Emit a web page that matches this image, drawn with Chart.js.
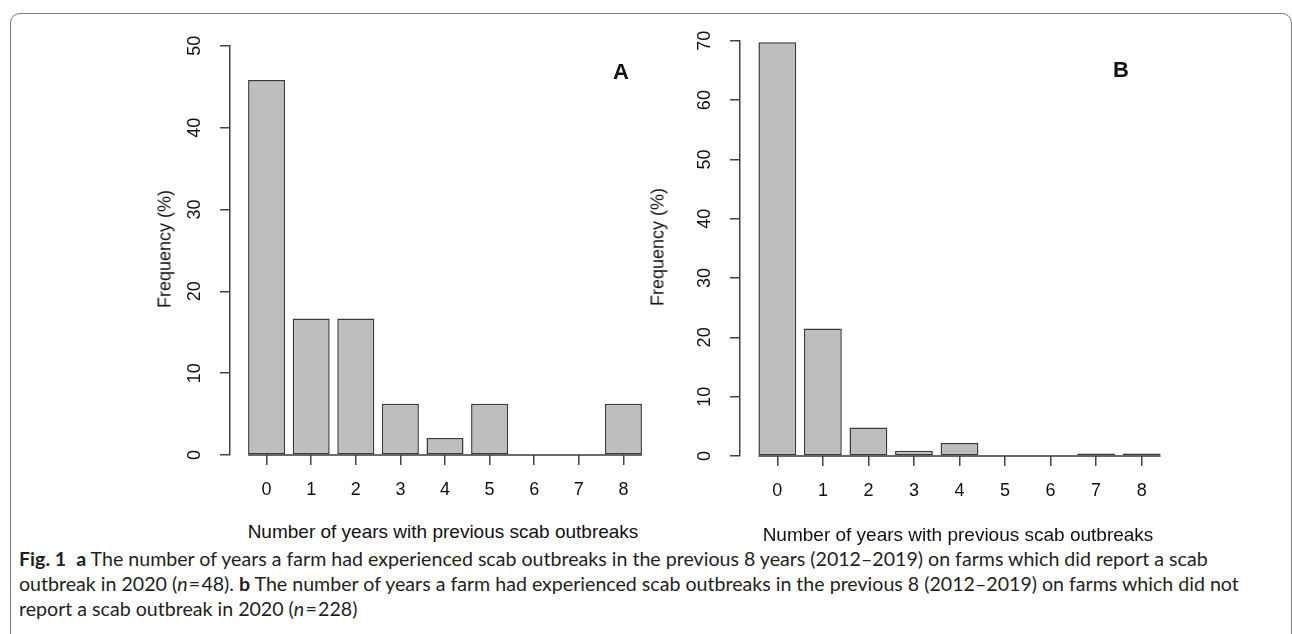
<!DOCTYPE html>
<html>
<head>
<meta charset="utf-8">
<script src="https://cdn.jsdelivr.net/npm/chart.js@4/dist/chart.umd.min.js"></script>
<style>
  body { margin: 0; width: 1292px; height: 634px; background: #fff; position: relative; overflow: hidden;
         font-family: "Liberation Sans", Arial, sans-serif; color: #111; }
  .frame { position: absolute; left: 10px; top: 13px; width: 1280px; height: 700px;
           border: 1px solid #7a7a7a; border-radius: 10px; }
  canvas { position: absolute; }
  .ytitle { position: absolute; font-size: 18px; white-space: nowrap;
            transform: translate(-50%, -50%) rotate(-90deg); }
  .xtitle { position: absolute; font-size: 19px; white-space: nowrap; transform: translate(-50%, -50%); }
  .tag { position: absolute; font-size: 22px; font-weight: bold; transform: translate(-50%, -50%); }
  .caption { position: absolute; left: 19px; top: 546px; font-family: Lato, sans-serif; font-size: 19.6px;
             line-height: 25px; white-space: nowrap; color: #231f20; }
</style>
</head>
<body>
<div class="frame"></div>
<canvas id="chartA" width="540" height="495" style="left:130px; top:20px;"></canvas>
<canvas id="chartB" width="549" height="501" style="left:640px; top:15px;"></canvas>

<div class="ytitle" style="left:165px; top:249px;">Frequency (%)</div>
<div class="ytitle" style="left:658px; top:247px;">Frequency (%)</div>
<div class="xtitle" style="left:443px; top:532px;">Number of years with previous scab outbreaks</div>
<div class="xtitle" style="left:958px; top:535px;">Number of years with previous scab outbreaks</div>
<div class="tag" style="left:621px; top:72px;">A</div>
<div class="tag" style="left:1121px; top:70px;">B</div>

<div class="caption">
  <b>Fig. 1</b>&nbsp; <b>a</b> The number of years a farm had experienced scab outbreaks in the previous 8 years (2012–2019) on farms which did report a scab<br>
  outbreak in 2020 (<i>n</i>&#8202;=&#8202;48). <b>b</b> The number of years a farm had experienced scab outbreaks in the previous 8 (2012–2019) on farms which did not<br>
  report a scab outbreak in 2020 (<i>n</i>&#8202;=&#8202;228)
</div>

<script>
// years with previous outbreaks (x categories)
const years = [0, 1, 2, 3, 4, 5, 6, 7, 8];
// panel A: farms that reported scab in 2020 (n = 48), %
const pctA = [45.83, 16.67, 16.67, 6.25, 2.08, 6.25, 0, 0, 6.25];
// panel B: farms that did not report scab in 2020 (n = 228), %
const pctB = [69.74, 21.49, 4.82, 0.88, 2.19, 0, 0, 0.44, 0.44];
const yMaxA = 50;
const yMaxB = 70;

const axisColor = "#444";
const tickFont = { family: "Liberation Sans", size: 18 };

// R-style baseline running under the bars, from first bar edge to last bar edge
const baseline = {
  id: "baseline",
  afterDatasetsDraw(chart) {
    const bars = chart.getDatasetMeta(0).data;
    const first = bars[0], last = bars[bars.length - 1];
    const y = chart.scales.y.getPixelForValue(0);
    const ctx = chart.ctx;
    ctx.save();
    ctx.strokeStyle = "#3a3a3a";
    ctx.lineWidth = 1.5;
    ctx.beginPath();
    ctx.moveTo(first.x - first.width / 2, y);
    ctx.lineTo(last.x + last.width / 2, y);
    ctx.stroke();
    ctx.restore();
  },
};

function drawPanel(id, values, yMax) {
  const ctx = document.getElementById(id).getContext("2d");
  return new Chart(ctx, {
    type: "bar",
    data: {
      labels: years,
      datasets: [{
        data: values,
        backgroundColor: "#bebebe",
        borderColor: "#3a3a3a",
        borderWidth: 1.5,
        borderSkipped: false,
        categoryPercentage: 1,
        barPercentage: 0.83,
      }],
    },
    options: {
      responsive: false,
      animation: false,
      devicePixelRatio: 1,
      layout: { padding: { top: 23, right: 10, left: 0, bottom: 0 } },
      plugins: { legend: { display: false }, tooltip: { enabled: false } },
      scales: {
        x: {
          type: "linear",
          offset: false,
          min: -0.82,
          max: 8.82,
          grid: { offset: false, drawOnChartArea: false, tickLength: 10, color: axisColor, lineWidth: 1.5 },
          border: { display: false },
          ticks: { stepSize: 1, includeBounds: false, padding: 14, color: "#111", font: tickFont },
          afterFit: (s) => { s.height = 60; },
        },
        y: {
          min: 0,
          max: yMax,
          grid: { drawOnChartArea: false, tickLength: 10, color: axisColor, lineWidth: 1.5 },
          border: { display: true, color: axisColor, width: 1.5 },
          ticks: {
            stepSize: 10, minRotation: 90, maxRotation: 90, crossAlign: "center",
            padding: 15, color: "#111", font: tickFont,
          },
          afterFit: (s) => { s.width = 100; },
        },
      },
    },
    plugins: [baseline],
  });
}

drawPanel("chartA", pctA, yMaxA);
drawPanel("chartB", pctB, yMaxB);
</script>
</body>
</html>
